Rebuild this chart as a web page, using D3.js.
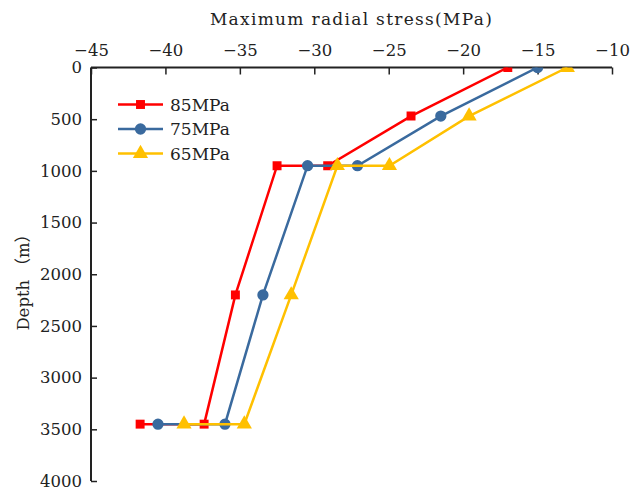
<!DOCTYPE html>
<html>
<head>
<meta charset="utf-8">
<script src="https://cdn.jsdelivr.net/npm/d3@7"></script>
<style>
  body { margin: 0; background: #fff; }
  text { font-family: "DejaVu Serif", "Noto Sans CJK SC", serif; fill: #222; }
</style>
</head>
<body>
<div id="chart"></div>
<script>
// values
var series_names = ["85MPa", "75MPa", "65MPa"];
var depth = [0, 470, 950, 950, 2200, 3450, 3450];
var stress_85 = [-17.0, -23.5, -29.1, -32.5, -35.3, -37.4, -41.7];
var stress_75 = [-15.0, -21.5, -27.1, -30.45, -33.45, -36.0, -40.5];
var stress_65 = [-13.0, -19.6, -24.95, -28.45, -31.55, -34.7, -38.75];
var x_ticks = [-45, -40, -35, -30, -25, -20, -15, -10];
var y_ticks = [0, 500, 1000, 1500, 2000, 2500, 3000, 3500, 4000];

var colors = ["#ff0000", "#3a6a9e", "#ffc000"];
var shapes = [d3.symbolSquare, d3.symbolCircle, d3.symbolTriangle];
var sizes = [80, 100, 100];

var margin = {top: 67.5, right: 20, bottom: 15, left: 91},
    width = 632 - margin.left - margin.right,
    height = 496 - margin.top - margin.bottom;

var svg = d3.select("#chart").append("svg")
    .attr("width", 632)
    .attr("height", 496)
  .append("g")
    .attr("transform", "translate(" + margin.left + "," + margin.top + ")");

var x = d3.scaleLinear().domain([-45, -10]).range([0, width]);
var y = d3.scaleLinear().domain([0, 4000]).range([0, height]);

svg.append("clipPath").attr("id", "clip")
  .append("rect").attr("width", width).attr("height", height);

// top axis + left axis, ticks pointing inward
var xAxis = svg.append("g")
  .call(d3.axisTop(x).tickValues(x_ticks).tickSize(-7).tickPadding(12).tickFormat(d3.format("d")));
var yAxis = svg.append("g")
  .call(d3.axisLeft(y).tickValues(y_ticks).tickSize(-6).tickPadding(9).tickFormat(d3.format("d")));

[xAxis, yAxis].forEach(function(a) {
  a.select(".domain").attr("stroke", "#222").attr("stroke-width", 2);
  a.selectAll(".tick line").attr("stroke", "#222").attr("stroke-width", 1.5);
  a.selectAll(".tick text").style("font-size", "16.5px").attr("fill", "#222");
});
xAxis.select(".domain").attr("d", "M0,0H" + width);
yAxis.select(".domain").attr("d", "M0,0V" + height);

svg.append("text")
  .attr("x", width / 2)
  .attr("y", -43)
  .attr("text-anchor", "middle")
  .style("font-size", "17px")
  .style("letter-spacing", "1.3px")
  .text("Maximum radial stress(MPa)");

svg.append("text")
  .attr("transform", "translate(-62," + (height / 2 + 4) + ") rotate(-90)")
  .attr("text-anchor", "middle")
  .style("font-size", "16.5px")
  .text("Depth （m）");

var all = [stress_85, stress_75, stress_65];
var line = d3.line()
  .x(function(d) { return x(d[0]); })
  .y(function(d) { return y(d[1]); });

var plot = svg.append("g").attr("clip-path", "url(#clip)");

all.forEach(function(vals, i) {
  var pts = vals.map(function(v, k) { return [v, depth[k]]; });
  plot.append("path")
    .datum(pts)
    .attr("fill", "none")
    .attr("stroke", colors[i])
    .attr("stroke-width", 2.5)
    .attr("d", line);
  plot.selectAll(".m" + i)
    .data(pts)
    .enter().append("path")
    .attr("transform", function(d) { return "translate(" + x(d[0]) + "," + y(d[1]) + ")"; })
    .attr("d", d3.symbol().type(shapes[i]).size(sizes[i]))
    .attr("fill", colors[i]);
});

// legend
var legend = svg.append("g").attr("transform", "translate(27,37)");
series_names.forEach(function(name, i) {
  var g = legend.append("g").attr("transform", "translate(0," + (i * 24.5) + ")");
  g.append("line").attr("x1", 0).attr("x2", 45).attr("y1", 0).attr("y2", 0)
    .attr("stroke", colors[i]).attr("stroke-width", 2.5);
  g.append("path").attr("transform", "translate(22.5,0)")
    .attr("d", d3.symbol().type(shapes[i]).size(sizes[i]))
    .attr("fill", colors[i]);
  g.append("text").attr("x", 52).attr("y", 6)
    .style("font-size", "17px")
    .text(name);
});
</script>
</body>
</html>
